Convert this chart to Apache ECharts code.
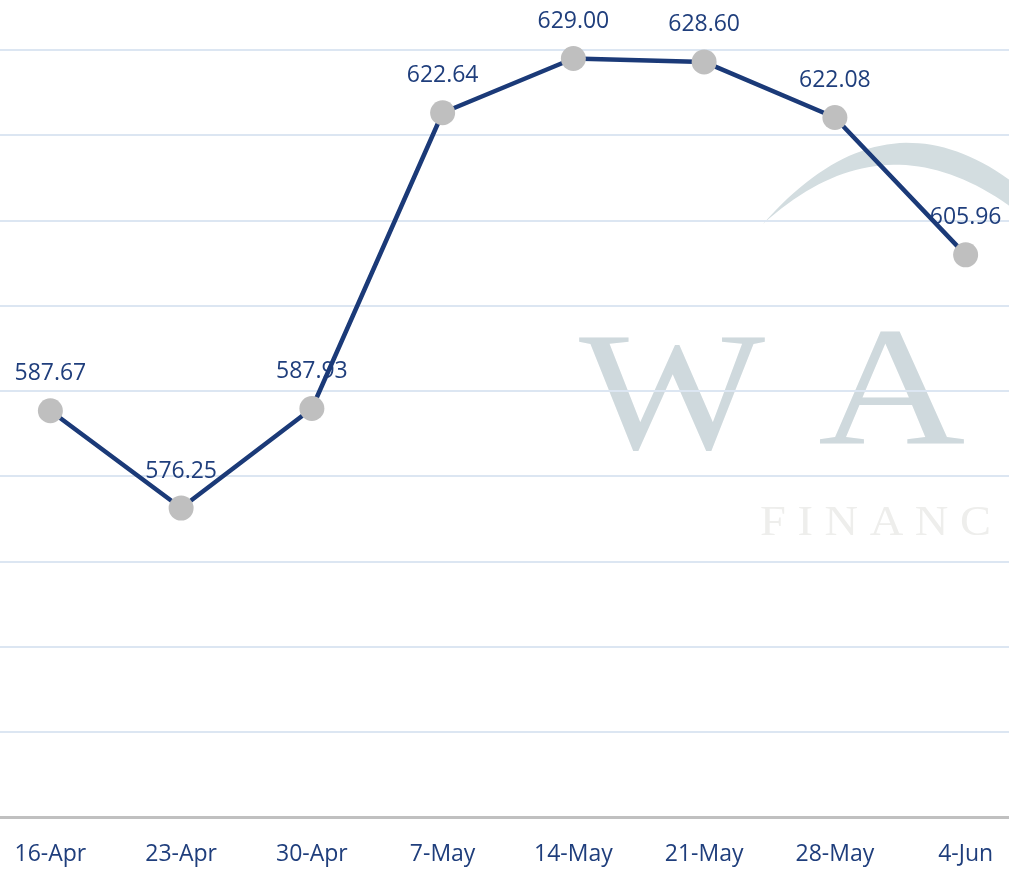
<!DOCTYPE html>
<html>
<head>
<meta charset="utf-8">
<script src="https://cdn.jsdelivr.net/npm/echarts@6/dist/echarts.min.js"></script>
<style>
html,body{margin:0;padding:0;background:#fff;}
#chart{width:1009px;height:869px;}
</style>
</head>
<body>
<div id="chart"></div>
<script>
var categories = ['16-Apr','23-Apr','30-Apr','7-May','14-May','21-May','28-May','4-Jun'];
var prices = [587.67, 576.25, 587.93, 622.64, 629.00, 628.60, 622.08, 605.96];
var yMin = 540, yMax = 630, yStep = 10;

// watermark crescent outline (decoration only)
function quad(p0, p1, p2, n) {
  var pts = [];
  for (var i = 0; i <= n; i++) {
    var t = i / n, a = (1-t)*(1-t), b = 2*(1-t)*t, c = t*t;
    pts.push([a*p0[0]+b*p1[0]+c*p2[0], a*p0[1]+b*p1[1]+c*p2[1]]);
  }
  return pts;
}
var crescent = quad([763,224],[885,85],[1015,184],40).concat(quad([1015,210],[885,113],[763,224],40));

var FONT = '"Open Sans", "Noto Sans", sans-serif';
var SERIF = '"Liberation Serif", "DejaVu Serif", serif';
var chart = echarts.init(document.getElementById('chart'), null, {renderer:'canvas'});
chart.setOption({
  animation: false,
  backgroundColor: '#ffffff',
  grid: { left: -15, right: -22, top: 50, bottom: 52, containLabel: false, outerBoundsMode: 'none' },
  graphic: [
    { type: 'polygon', z: -10, shape: { points: crescent }, style: { fill: '#d3dde0' } },
    { type: 'text', z: -10, x: 579, y: 318, scaleX: 1.16, style: { text: 'W', font: '170px ' + SERIF, fill: '#cfd9dd' } },
    { type: 'text', z: -10, x: 818, y: 314, scaleX: 1.2, style: { text: 'A', font: '170px ' + SERIF, fill: '#cfd9dd' } },
    { type: 'text', z: -10, x: 760, y: 502, scaleX: 1.08, style: { text: 'F I N A N C', font: '43px ' + SERIF, fill: '#eeeeec' } }
  ],
  xAxis: {
    type: 'category',
    data: categories,
    boundaryGap: true,
    axisLine: { lineStyle: { color: '#c0c0c0', width: 3 } },
    axisTick: { show: false },
    axisLabel: { color: '#1f3e7c', fontSize: 23, fontFamily: FONT, margin: 26 }
  },
  yAxis: {
    type: 'value',
    min: yMin, max: yMax, interval: yStep,
    axisLine: { show: false },
    axisTick: { show: false },
    axisLabel: { show: false },
    splitLine: { lineStyle: { color: '#dce6f2', width: 2 } }
  },
  series: [
    {
      type: 'line', data: prices, z: 2,
      symbol: 'circle', symbolSize: 25, showSymbol: true,
      itemStyle: { color: 'rgba(0,0,0,0)' },
      lineStyle: { opacity: 0 },
      label: { show: true, position: 'top', distance: 13, color: '#1f3e7c', fontSize: 23, fontFamily: FONT,
               formatter: function(p){ return p.value.toFixed(2); } }
    },
    {
      type: 'line', data: prices, z: 3,
      symbol: 'circle', symbolSize: 25,
      itemStyle: { color: '#bfbfbf' },
      lineStyle: { color: '#1b3a78', width: 4.5 },
      label: { show: false }
    }
  ]
});
</script>
</body>
</html>
